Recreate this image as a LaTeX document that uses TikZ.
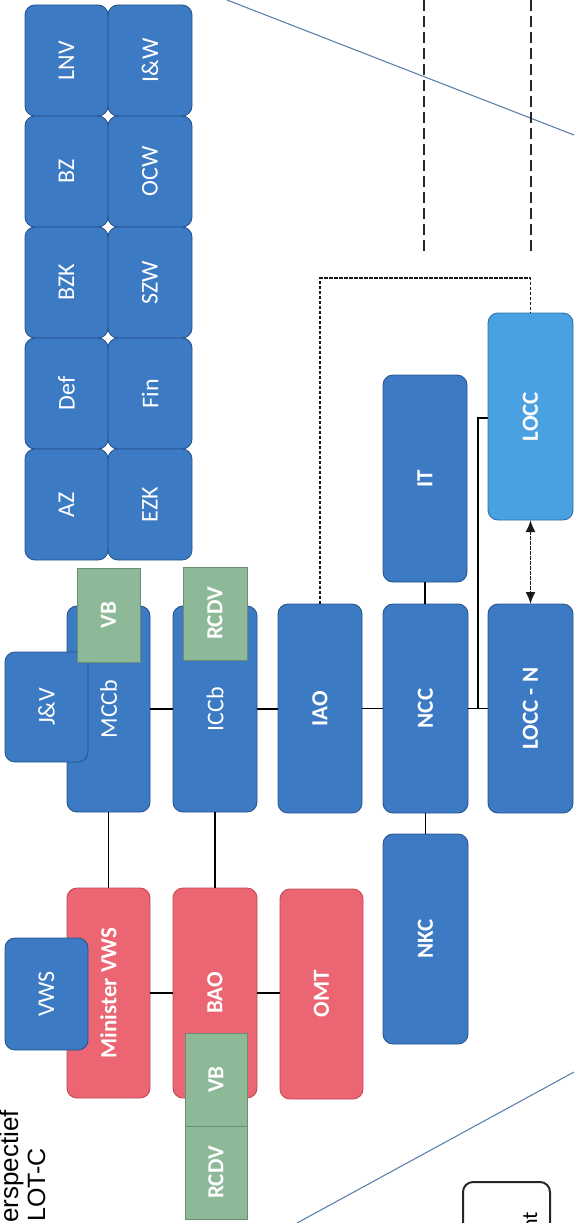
\documentclass[tikz,border=0pt]{standalone}
\usepackage{fontspec}
\usepackage{graphicx}
\setmainfont{Carlito}
\newfontfamily\headfont{Liberation Sans}
\usetikzlibrary{arrows.meta}
\definecolor{boxblue}{RGB}{60,122,196}
\definecolor{boxblueline}{RGB}{40,85,145}
\definecolor{lightblue}{RGB}{74,161,226}
\definecolor{lightblueline}{RGB}{45,110,170}
\definecolor{boxred}{RGB}{235,102,114}
\definecolor{boxredline}{RGB}{195,72,84}
\definecolor{boxgreen}{RGB}{142,185,152}
\definecolor{boxgreenline}{RGB}{110,140,115}
\definecolor{diag}{RGB}{95,130,170}
\tikzset{
  base/.style={draw, inner sep=0pt, outer sep=0pt, line width=0.9pt, text=white,
    font=\fontsize{24}{28}\selectfont},
  bluebox/.style={base, fill=boxblue, draw=boxblueline, rounded corners=10pt},
  lbluebox/.style={base, fill=lightblue, draw=lightblueline, rounded corners=10pt, font=\fontsize{23}{27}\selectfont\bfseries},
  redbox/.style={base, fill=boxred, draw=boxredline, rounded corners=10pt, font=\fontsize{23}{27}\selectfont\bfseries},
  greenbox/.style={base, fill=boxgreen, draw=boxgreenline, font=\fontsize{23}{27}\selectfont\bfseries},
  boldtext/.style={font=\fontsize{23}{27}\selectfont\bfseries},
  conn/.style={draw=black, line width=1.5pt},
  dconn/.style={draw=black!90, line width=1.8pt, dash pattern=on 3.5pt off 1.5pt},
  longdash/.style={draw=black!85, line width=1.8pt, dash pattern=on 11pt off 5pt},
  diagline/.style={draw=diag, line width=1.1pt},
}
\newcommand\bx[7]{\node[#6, minimum width={#4-#2}, minimum height={#5-#3}] (#1) at ({(#2+#4)/2},{(#3+#5)/2}) {\rotatebox{90}{#7}};}
\begin{document}
\begin{tikzpicture}[x=1pt,y=-1pt]
\clip (0,0) rectangle (574,1223);
\fill[white] (0,0) rectangle (574,1223);

% diagonal lines
\coordinate (d1a) at (227,0);
\coordinate (d1b) at (574,135);
\coordinate (d2a) at (297,1223);
\coordinate (d2b) at (574,1072);
\draw[diagline] (d1a) -- (d1b);
\draw[diagline] (d2a) -- (d2b);

% long dashed lines at top
\coordinate (t1) at (424,0);
\coordinate (b1) at (424,255);
\coordinate (t2) at (531,0);
\coordinate (b2) at (531,255);
\draw[longdash] (t1) -- (b1);
\draw[longdash] (t2) -- (b2);

% ministries grid
\bx{lnv}{25}{5}{108}{116}{bluebox}{LNV}
\bx{iw}{108}{5}{192}{116}{bluebox}{I\&W}
\bx{bz}{25}{116}{108}{227}{bluebox}{BZ}
\bx{ocw}{108}{116}{192}{227}{bluebox}{OCW}
\bx{bzk}{25}{227}{108}{338}{bluebox}{BZK}
\bx{szw}{108}{227}{192}{338}{bluebox}{SZW}
\bx{def}{25}{338}{108}{449}{bluebox}{Def}
\bx{fin}{108}{338}{192}{449}{bluebox}{Fin}
\bx{az}{25}{449}{108}{560}{bluebox}{AZ}
\bx{ezk}{108}{449}{192}{560}{bluebox}{EZK}

% main boxes
\bx{mccb}{67}{606}{150}{812}{bluebox}{MCCb}
\bx{jv}{5}{652}{88}{762}{bluebox}{J\&V}
\bx{vba}{77}{568}{140}{662}{greenbox}{VB}
\bx{iccb}{173}{606}{257}{812}{bluebox}{ICCb}
\bx{rcdva}{183}{567}{247}{660}{greenbox}{RCDV}
\bx{iao}{278}{604}{362}{813}{bluebox,boldtext}{IAO}
\bx{ncc}{383}{604}{468}{813}{bluebox,boldtext}{NCC}
\bx{it}{383}{375}{467}{582}{bluebox,boldtext}{IT}
\bx{nkc}{383}{834}{468}{1044}{bluebox,boldtext}{NKC}
\bx{loccn}{488}{604}{573}{813}{bluebox,boldtext}{LOCC - N}
\bx{locc}{488}{313}{573}{520}{lbluebox}{LOCC}
\bx{minister}{67}{888}{150}{1098}{redbox}{Minister VWS}
\bx{vws}{5}{938}{88}{1050}{bluebox}{VWS}
\bx{bao}{173}{888}{257}{1098}{redbox}{BAO}
\bx{vbb}{185}{1033}{247}{1126}{greenbox}{VB}
\bx{rcdvb}{185}{1126}{247}{1219}{greenbox}{RCDV}
\bx{omt}{280}{889}{363}{1099}{redbox}{OMT}

% connectors
\draw[conn] (mccb.south) -- (minister.north);
\draw[conn] (iccb.south) -- (bao.north);
\draw[conn] (minister.east) -- (minister.east -| bao.west);
\draw[conn] (bao.east) -- (bao.east -| omt.west);
\draw[conn] (mccb.east) -- (mccb.east -| iccb.west);
\draw[conn] (iccb.east) -- (iccb.east -| iao.west);
\draw[conn] (iao.east) -- (iao.east -| ncc.west);
\draw[conn] (ncc.east) -- (ncc.east -| loccn.west);
\coordinate (j1) at (478,708.5);
\coordinate (j2) at (478,418);
\draw[conn] (j1) -- (j2) -- (j2 -| locc.west);
\draw[conn] (it.south) -- (it.south |- ncc.north);
\draw[conn] (ncc.south) -- (ncc.south |- nkc.north);
\draw[dconn, {Latex[length=12pt,width=10pt]}-{Latex[length=12pt,width=10pt]}] (locc.south) -- (loccn.north);
\coordinate (dtop) at (0,278);
\draw[dconn] (iao.north) -- (iao.north |- dtop) -- (locc.north |- dtop) -- (locc.north);

% legend box (cut off)
\draw[line width=2pt, draw=black!85, rounded corners=10pt] (463,1240) rectangle (550,1182);
\node[rotate=90, anchor=base east, inner sep=0pt, font=\fontsize{22}{26}\selectfont] (ntx) at (537,1212) {nt};

% title text (cut off)
\node[rotate=90, anchor=base east, inner sep=0pt, font=\headfont\fontsize{26}{30}\selectfont] (ttl1) at (18,1110) {Perspectief};
\node[rotate=90, anchor=base east, inner sep=0pt, font=\headfont\fontsize{25}{30}\selectfont] (ttl2) at (45,1148) {LOT-C};
\end{tikzpicture}
\end{document}
